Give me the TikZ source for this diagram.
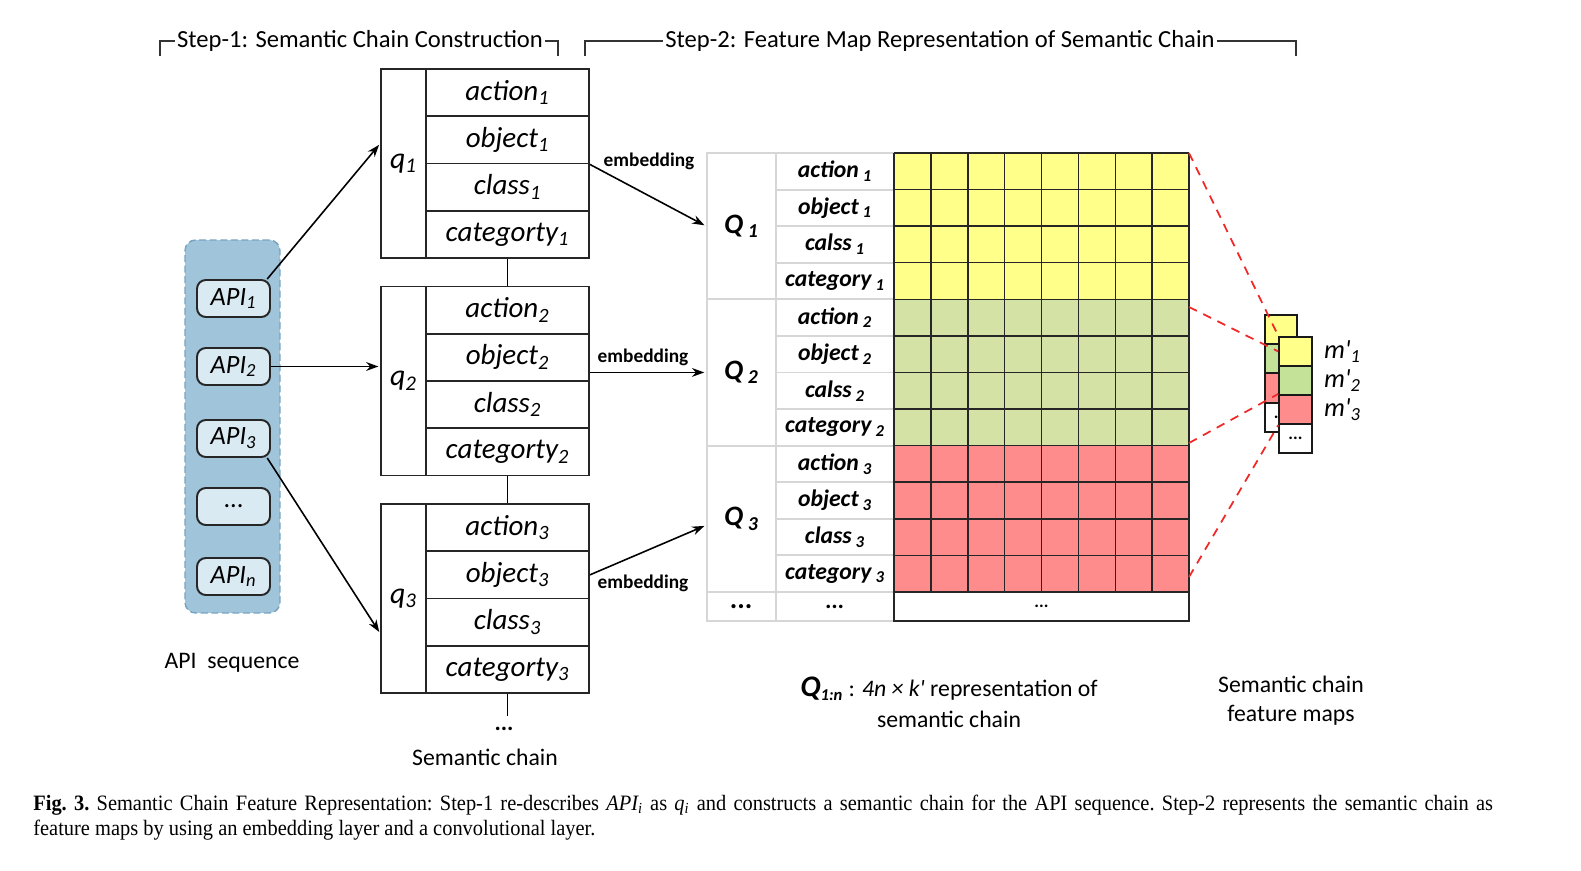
\documentclass[tikz,border=0pt]{standalone}
\usepackage{fontspec}
\setmainfont{Carlito}
\newfontfamily\capfont[FakeStretch=0.93]{Liberation Serif}
\usetikzlibrary{arrows.meta,positioning}

\definecolor{seqblue}{RGB}{160,197,218}
\definecolor{seqedge}{RGB}{118,163,193}
\definecolor{apifill}{RGB}{218,234,243}
\definecolor{tabgray}{RGB}{214,214,214}
\definecolor{mapyel}{RGB}{255,255,138}
\definecolor{mapgrn}{RGB}{213,226,166}
\definecolor{mapred}{RGB}{255,140,140}
\definecolor{fmgrn}{RGB}{196,226,152}
\definecolor{convred}{RGB}{240,40,40}
\newcommand\fmdots{...}

\begin{document}
\begin{tikzpicture}[x=0.02cm, y=-0.02cm,
  hdr/.style={font=\fontsize{14}{16}\selectfont, inner sep=1pt},
  brk/.style={draw=black!80, line width=0.7pt},
  seq/.style={draw=seqedge, dash pattern=on 4pt off 2pt, line width=0.8pt, fill=seqblue,
              rounded corners=6pt, minimum width=1.9cm, minimum height=7.46cm},
  api/.style={draw=black!85, line width=1.1pt, fill=apifill, rounded corners=5pt,
              minimum width=1.46cm, minimum height=0.74cm, inner sep=0pt,
              font=\fontsize{15}{18}\selectfont\itshape},
  qtag/.style={draw=black!85, line width=0.9pt, minimum width=0.9cm, minimum height=3.78cm,
               inner sep=0pt, font=\fontsize{17}{20}\selectfont\itshape},
  qcell/.style={draw=black!85, line width=1.1pt, minimum width=3.26cm, minimum height=0.945cm,
                inner sep=0pt, font=\fontsize{16.5}{19}\selectfont\itshape},
  arr/.style={-{Stealth[length=7pt,width=5pt]}, line width=0.9pt, shorten >=1pt},
  emb/.style={font=\fontsize{11}{13}\selectfont\bfseries, inner sep=1pt},
  tQ/.style={draw=tabgray, line width=1.1pt, minimum width=1.38cm, minimum height=2.926cm,
             inner sep=0pt, font=\fontsize{16}{19}\selectfont\bfseries\itshape},
  tlab/.style={draw=tabgray, line width=1.1pt, minimum width=2.36cm, minimum height=0.7316cm,
               inner sep=0pt, font=\fontsize{13.5}{15}\selectfont\bfseries\itshape},
  gridln/.style={draw=black!85, line width=0.85pt},
  fm/.style={draw=black!90, line width=1.1pt, minimum width=0.65cm, minimum height=0.585cm,
             inner sep=0pt, font=\bfseries},
  conv/.style={draw=convred, line width=1pt, dash pattern=on 5pt off 4pt},
  mlab/.style={font=\fontsize{15}{18}\selectfont\itshape, inner sep=0pt},
  lab/.style={font=\fontsize{13.5}{16}\selectfont, align=center},
]
  \useasboundingbox (0,0) rectangle (1581,871);

  % step headers
  \node[hdr] (hd1) at (360,41)  {Step-1: Semantic Chain Construction};
  \node[hdr] (hd2) at (940,41)  {Step-2: Feature Map Representation of Semantic Chain};
  \coordinate (b1l) at (160,56);  \coordinate (b1r) at (558,56);
  \coordinate (b2l) at (585,56);  \coordinate (b2r) at (1296,56);
  \draw[brk] (b1l) |- (hd1.west);
  \draw[brk] (hd1.east) -| (b1r);
  \draw[brk] (b2l) |- (hd2.west);
  \draw[brk] (hd2.east) -| (b2r);

  % API sequence
  \node[seq] (seq) at (232.5,426.5) {};
  \node[api] (a1) at (233.5,298.5) {API\textsubscript{1}};
  \node[api] (a2) at (233.5,366.5) {API\textsubscript{2}};
  \node[api] (a3) at (233.5,438.5) {API\textsubscript{3}};
  \node[api] (a4) at (233.5,506.5) {\upshape ...};
  \node[api] (a5) at (233.5,576.5) {API\textsubscript{n}};
  \node[lab] (seqlab) at (232,663) {API\ \ sequence};

  % semantic chain
  \foreach \k/\top in {1/69,2/286.5,3/504} {
    \node[qtag] (q\k) at ({403.5},{\top+94.5}) {q\textsubscript{\k}};
    \foreach \f [count=\r] in {action,object,class,categorty}
      \node[qcell] (q\k-\r) at ({507.5},{\top+23.6+(\r-1)*47.25}) {\f\textsubscript{\k}};
  }
  \coordinate (tail) at (507.5,716);
  \draw[line width=1.1pt] (q1-4.south) -- (q2-1.north);
  \draw[line width=1.1pt] (q2-4.south) -- (q3-1.north);
  \draw[line width=1.1pt] (q3-4.south) -- (tail);
  \node[lab, font=\fontsize{13.5}{16}\selectfont\bfseries] (more) at (504,729) {...};
  \node[lab] (chainlab) at (485,757) {Semantic chain};

  \draw[arr] (a1.30) -- ([yshift=0.4cm]q1.west);
  \draw[arr] (a2.east) -- (a2.east -| q2.west);
  \draw[arr] (a3.-30) -- ([yshift=-0.7cm]q3.west);

  % embedding table, left part
  \foreach \k in {1,2,3}
    \node[tQ] (Q\k) at ({741.5},{226.15+(\k-1)*146.3}) {Q\,\textsubscript{\k}};
  \foreach \k/\cl in {1/calss,2/calss,3/class}
    \foreach \f [count=\r from 0] in {action,object,\cl,category}
      \node[tlab] (L\k-\r) at ({835},{171.3+((\k-1)*4+\r)*36.58}) {\f\,\textsubscript{\k}};
  \node[tQ, minimum height=0.58cm] (Qd) at (741.5,606.5) {...};
  \node[tlab, minimum height=0.58cm] (Ld) at (835,606.5) {...};

  % embedding arrows
  \draw[arr] (q1-2.south east) -- (Q1.west);
  \draw[arr] (q2-2.east |- Q2.west) -- (Q2.west);
  \draw[arr] (q3-2.east) -- ([yshift=-0.13cm]Q3.west);
  \node[emb] (e1) at (649,161) {embedding};
  \node[emb] (e2) at (643,357) {embedding};
  \node[emb] (e3) at (643,583) {embedding};

  % 4n x k' grid
  \fill[mapyel] (894,153) rectangle (1189,299.3);
  \fill[mapgrn] (894,299.3) rectangle (1189,445.6);
  \fill[mapred] (894,445.6) rectangle (1189,592);
  \foreach \i in {0,...,8}
    \draw[gridln] ({894+\i*36.875},153) -- ({894+\i*36.875},592);
  \foreach \j in {0,...,12}
    \draw[gridln] (894,{153+\j*36.58}) -- (1189,{153+\j*36.58});
  \node[draw=black!85, line width=1.1pt, minimum width=5.9cm, minimum height=0.58cm,
        inner sep=0pt, font=\bfseries] (Gd) at (1041.5,606.5) {...};
  \coordinate (c1) at (1189,153);
  \coordinate (c2) at (1189,307);
  \coordinate (c3) at (1189,443);
  \coordinate (c4) at (1189,577);

  % feature maps
  \foreach \c/\t [count=\r from 0] in {mapyel/,fmgrn/,mapred/,white/\fmdots}
    \node[fm, fill=\c, minimum width=0.64cm] (b\r) at ({1281},{329.6+\r*29.2}) {\t};
  \foreach \c/\t [count=\r] in {mapyel/,fmgrn/,mapred/,white/\fmdots}
    \node[fm, fill=\c] (f\r) at ({1295.5},{351.5+(\r-1)*29}) {\t};
  \draw[conv] (c1) -- (f1.north west);
  \draw[conv] (c2) -- (f1.west);
  \draw[conv] (c3) -- (f3.north west);
  \draw[conv] (c4) -- (f3.south west);
  \node[mlab, right=0.22cm of f1] (m1) {m\textquotesingle\textsubscript{1}};
  \node[mlab, right=0.22cm of f2] (m2) {m\textquotesingle\textsubscript{2}};
  \node[mlab, right=0.22cm of f3] (m3) {m\textquotesingle\textsubscript{3}};

  % bottom labels
  \node[lab, font=\fontsize{13.5}{17.6}\selectfont] (replab) at (949,702)
       {{\bfseries\itshape\fontsize{17}{17}\selectfont Q}\textsubscript{\bfseries\itshape 1:n}
        : \textit{4n × k\textquotesingle} representation of\\ semantic chain};
  \node[lab, font=\fontsize{13.5}{16.5}\selectfont] (fmlab) at (1291,700.5)
       {Semantic chain\\ feature maps};

  % caption
  \node[anchor=north west, text width=29.2cm, align=justify, inner sep=0pt,
        font=\capfont\fontsize{12.5}{13.9}\selectfont\frenchspacing] (cap) at (33,795)
       {\textbf{Fig. 3.} Semantic Chain Feature Representation: Step-1 re-describes
        \textit{API\textsubscript{i}} as \textit{q\textsubscript{i}} and constructs a semantic
        chain for the API sequence. Step-2 represents the semantic chain as\linebreak
        feature maps by using an embedding layer and a convolutional layer.};
\end{tikzpicture}
\end{document}
